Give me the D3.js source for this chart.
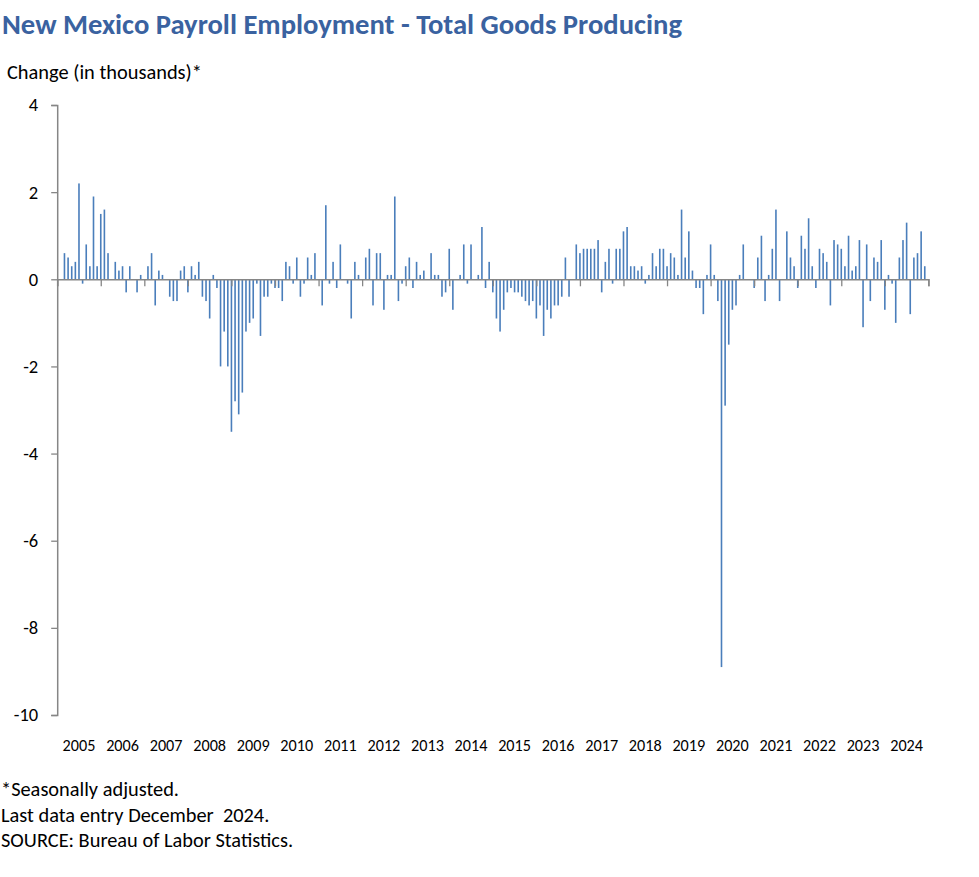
<!DOCTYPE html>
<html>
<head>
<meta charset="utf-8">
<script src="https://cdn.jsdelivr.net/npm/d3@7"></script>
<style>
  html, body { margin: 0; padding: 0; background: #ffffff; }
  svg { display: block; }
  text { font-family: Calibri, Carlito, Lato, "Liberation Sans", sans-serif; fill: #000; }
</style>
</head>
<body>
<svg id="chart" width="979" height="877"></svg>
<script>
// ---- Data (monthly change, thousands, seasonally adjusted) ----
const years = ["2005","2006","2007","2008","2009","2010","2011","2012","2013","2014",
               "2015","2016","2017","2018","2019","2020","2021","2022","2023","2024"];
const yTicks = [4, 2, 0, -2, -4, -6, -8, -10];
const v2005 = [0, 0, 0.6, 0.5, 0.3, 0.4, 2.2, -0.1, 0.8, 0.3, 1.9, 0.3];
const v2006 = [1.5, 1.6, 0.6, 0, 0.4, 0.2, 0.3, -0.3, 0.3, 0, -0.3, 0.1];
const v2007 = [0, 0.3, 0.6, -0.6, 0.2, 0.1, 0, -0.4, -0.5, -0.5, 0.2, 0.3];
const v2008 = [-0.3, 0.3, 0.1, 0.4, -0.4, -0.5, -0.9, 0.1, -0.2, -2.0, -1.2, -2.0];
const v2009 = [-3.5, -2.8, -3.1, -2.6, -1.2, -1.0, -0.9, -0.1, -1.3, -0.4, -0.4, -0.1];
const v2010 = [-0.2, -0.2, -0.5, 0.4, 0.3, -0.1, 0.5, -0.4, -0.1, 0.5, 0.1, 0.6];
const v2011 = [0, -0.6, 1.7, -0.1, 0.4, -0.2, 0.8, 0, -0.1, -0.9, 0.4, 0.1];
const v2012 = [0, 0.5, 0.7, -0.6, 0.6, 0.6, -0.7, 0.1, 0.1, 1.9, -0.5, -0.1];
const v2013 = [0.3, 0.5, -0.2, 0.4, 0.1, 0.2, 0, 0.6, 0.1, 0.1, -0.4, -0.3];
const v2014 = [0.7, -0.7, 0, 0.1, 0.8, -0.1, 0.8, 0, 0.1, 1.2, -0.2, 0.4];
const v2015 = [-0.3, -0.9, -1.2, -0.7, -0.3, -0.2, -0.3, -0.3, -0.4, -0.5, -0.6, -0.5];
const v2016 = [-0.9, -0.6, -1.3, -0.7, -0.9, -0.6, -0.6, -0.4, 0.5, -0.4, 0, 0.8];
const v2017 = [0.6, 0.7, 0.7, 0.7, 0.7, 0.9, -0.3, 0.4, 0.7, -0.1, 0.7, 0.7];
const v2018 = [1.1, 1.2, 0.3, 0.3, 0.2, 0.3, -0.1, 0.1, 0.6, 0.3, 0.7, 0.7];
const v2019 = [0.3, 0.6, 0.5, 0.1, 1.6, 0.5, 1.1, 0.2, -0.2, -0.2, -0.8, 0.1];
const v2020 = [0.8, 0.1, -0.5, -8.9, -2.9, -1.5, -0.7, -0.6, 0.1, 0.8, 0, 0];
const v2021 = [-0.2, 0.5, 1.0, -0.5, 0.1, 0.7, 1.6, -0.5, 0, 1.1, 0.5, 0.3];
const v2022 = [-0.2, 1.0, 0.7, 1.4, 0.3, -0.2, 0.7, 0.6, 0.4, -0.6, 0.9, 0.8];
const v2023 = [0.7, 0.3, 1.0, 0.2, 0.3, 0.9, -1.1, 0.8, -0.5, 0.5, 0.4, 0.9];
const v2024 = [-0.7, 0.1, -0.1, -1.0, 0.5, 0.9, 1.3, -0.8, 0.5, 0.6, 1.1, 0.3];

const values = [].concat(v2005, v2006, v2007, v2008, v2009, v2010, v2011, v2012, v2013, v2014,
                         v2015, v2016, v2017, v2018, v2019, v2020, v2021, v2022, v2023, v2024);

const title = "New Mexico Payroll Employment - Total Goods Producing";
const yTitle = "Change (in thousands)*";
const notes = ["*Seasonally adjusted.", "Last data entry December\u00a0 2024.", "SOURCE: Bureau of Labor Statistics."];

// ---- Layout ----
const svg = d3.select("#chart");
const plotLeft = 57.2, plotRight = 928.4, plotTop = 105, plotBottom = 715;
const nMonths = values.length;
const x = d3.scaleLinear().domain([0, nMonths]).range([plotLeft, plotRight]);
const y = d3.scaleLinear().domain([-10, 4]).range([plotBottom, plotTop]);
const axisColor = "#868686";
const barColor = "#4a7ebb";

function fitWidth(sel, target) {
  const w = sel.node().getComputedTextLength();
  const fs = parseFloat(sel.attr("font-size"));
  const nf = w > 0 ? fs * target / w : fs;
  sel.attr("font-size", nf.toFixed(2));
  return nf;
}

// Title
const t = svg.append("text").attr("x", 2).attr("y", 34)
  .attr("font-size", 24).attr("font-weight", "bold")
  .style("fill", "#3a62a0").text(title);
fitWidth(t, 680);

// Y title
const yt = svg.append("text").attr("x", 7).attr("y", 79)
  .attr("font-size", 18).text(yTitle);
fitWidth(yt, 195);

// Bars
svg.append("g").selectAll("rect").data(values).join("rect")
  .attr("x", (d, i) => x(i) - 0.8)
  .attr("width", 1.6)
  .attr("y", d => d >= 0 ? y(d) : y(0))
  .attr("height", d => Math.abs(y(d) - y(0)))
  .attr("fill", barColor);

// Y axis
const yAxis = d3.axisLeft(y).tickValues(yTicks).tickSize(6).tickPadding(13)
  .tickFormat(d => String(d));
const gy = svg.append("g").attr("transform", `translate(${plotLeft},0)`).call(yAxis);
gy.select(".domain").attr("stroke", axisColor).attr("stroke-width", 1.5);
gy.selectAll(".tick line").attr("stroke", axisColor).attr("stroke-width", 1.3);
gy.selectAll(".tick text").attr("font-size", 18.5).attr("font-family", null).style("fill", "#000");

// Zero line with year tick marks
const xAxis = d3.axisBottom(x).tickValues(d3.range(0, nMonths + 1, 12)).tickSize(7).tickFormat("");
const gx = svg.append("g").attr("transform", `translate(0,${y(0)})`).call(xAxis);
gx.select(".domain").attr("stroke", axisColor).attr("stroke-width", 1.5);
gx.selectAll(".tick line").attr("stroke", axisColor).attr("stroke-width", 1.3);

// Year labels
svg.append("g").selectAll("text").data(years).join("text")
  .attr("x", (d, i) => x(i * 12 + 6))
  .attr("y", 751)
  .attr("text-anchor", "middle")
  .attr("font-size", 16.2)
  .text(d => d);

// Notes
const nt = svg.append("g").selectAll("text").data(notes).join("text")
  .attr("x", 1).attr("y", (d, i) => 796 + i * 25.5)
  .attr("font-size", 16.5)
  .text(d => d);
const nfs = fitWidth(d3.select(nt.nodes()[2]), 292);
nt.attr("font-size", nfs.toFixed(2));
</script>
</body>
</html>
